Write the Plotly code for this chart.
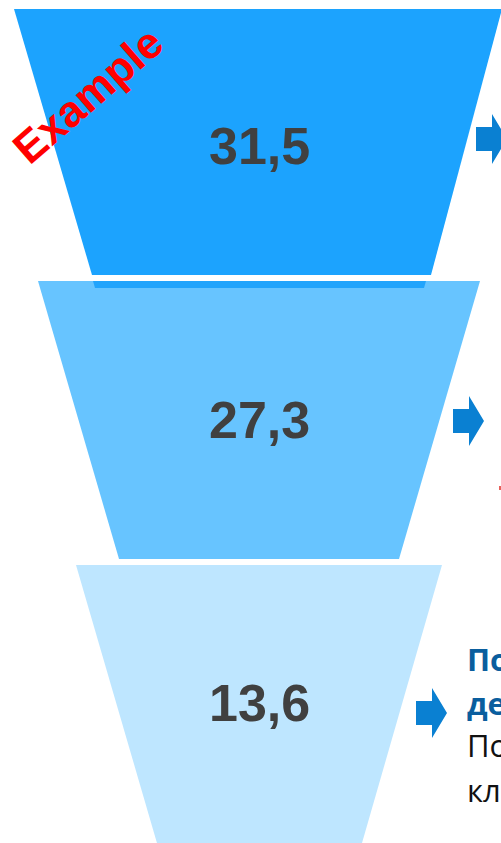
import plotly.graph_objects as go

# ---- data ----
stage_values = [31.5, 27.3, 13.6]
stage_labels = ["31,5", "27,3", "13,6"]
stage_colors = ["#1CA3FE", "#67C4FF", "#BEE6FF"]
side_bold_lines = ["По", "де"]
side_plain_lines = ["По", "кл"]
watermark = "Example"

# ---- geometry (pixel-like coordinates) ----
W, H = 501, 843
tops = [9, 281, 565]
bottoms = [275, 559, 850]
top_left = [14, 38, 76]
top_right = [502, 480, 442]
bot_left = [92, 119, 159]
bot_right = [431, 399, 360]
label_y = [146, 420, 703]
arrow_y = [139, 421, 713]
arrow_x = [476, 453, 416]

fig = go.Figure()

for i, v in enumerate(stage_values):
    fig.add_trace(go.Scatter(
        x=[top_left[i], top_right[i], bot_right[i], bot_left[i], top_left[i]],
        y=[tops[i], tops[i], bottoms[i], bottoms[i], tops[i]],
        fill="toself", fillcolor=stage_colors[i], mode="lines",
        line=dict(width=0, color=stage_colors[i]), hoverinfo="skip",
        showlegend=False))

shapes = []
# darker strip under top of second stage
shapes.append(dict(type="path", path="M 93 281 L 426 281 L 424 288 L 95 288 Z",
                   fillcolor="#22A4FC", line=dict(width=0), layer="above"))
# arrows
for ax, ay in zip(arrow_x, arrow_y):
    p = (f"M {ax} {ay-12} L {ax+16} {ay-12} L {ax+16} {ay-25} L {ax+31} {ay} "
         f"L {ax+16} {ay+25} L {ax+16} {ay+12} L {ax} {ay+12} Z")
    shapes.append(dict(type="path", path=p, fillcolor="#0A80D2",
                       line=dict(width=0), layer="above"))
# tiny red mark at right edge
shapes.append(dict(type="rect", x0=499, x1=503, y0=486, y1=490,
                   fillcolor="#E8605A", line=dict(width=0)))

annotations = []
for i, lab in enumerate(stage_labels):
    annotations.append(dict(x=259, y=label_y[i], text=f"<b>{lab}</b>",
                            showarrow=False, xanchor="center", yanchor="middle",
                            font=dict(family="Arial, Liberation Sans", size=52,
                                      color="#404040")))
annotations.append(dict(x=87, y=95, text=f"<b>{watermark}</b>", textangle=-41,
                        showarrow=False, xanchor="center", yanchor="middle",
                        font=dict(family="Arial, Liberation Sans", size=44,
                                  color="#FF0000")))
side_y = [659, 703, 745, 790]
lines = [(t, True) for t in side_bold_lines] + [(t, False) for t in side_plain_lines]
for (t, bold), yy in zip(lines, side_y):
    annotations.append(dict(x=465, y=yy, text=f"<b>{t}</b>" if bold else t,
                            showarrow=False, xanchor="left", yanchor="middle",
                            font=dict(family="Open Sans, Noto Sans", size=31,
                                      color="#0A5E9E" if bold else "#111111")))

fig.update_layout(
    width=W, height=H, margin=dict(l=0, r=0, t=0, b=0),
    paper_bgcolor="white", plot_bgcolor="white",
    xaxis=dict(range=[0, W], visible=False, fixedrange=True),
    yaxis=dict(range=[H, 0], visible=False, fixedrange=True),
    shapes=shapes, annotations=annotations, showlegend=False)

fig.write_html("out.html", config={"displayModeBar": False},
               post_script="document.body.style.margin='0';"
                           "document.body.style.overflow='hidden';")
